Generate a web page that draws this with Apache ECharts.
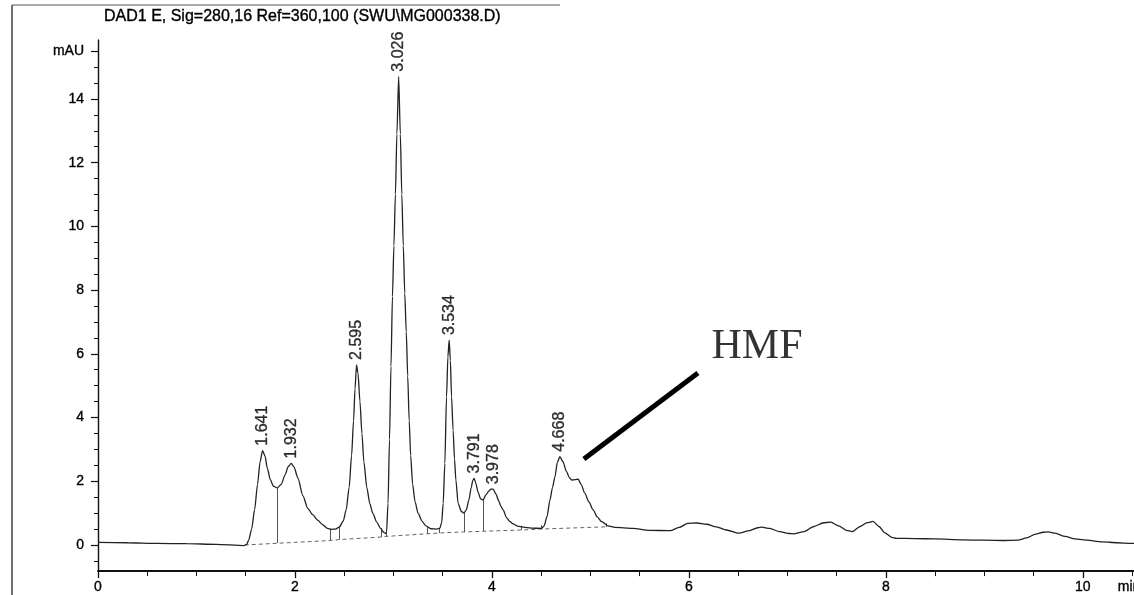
<!DOCTYPE html>
<html><head><meta charset="utf-8">
<script src="https://cdn.jsdelivr.net/npm/echarts@6/dist/echarts.min.js"></script>
<style>html,body{margin:0;padding:0;background:#fff}#c{width:1134px;height:595px}</style>
</head><body><div id="c"></div>
<script>
const chartTitle = 'DAD1 E, Sig=280,16 Ref=360,100 (SWU\\MG000338.D)';
const yUnit = 'mAU';
const xUnit = 'min';
const xUnitAt = [10.47];
const xMajorTicks = [0, 2, 4, 6, 8, 10];
const xMinorTicks = [0.5,1,1.5,2.5,3,3.5,4.5,5,5.5,6.5,7,7.5,8.5,9,9.5,10.5];
const yMajorTicks = [0, 2, 4, 6, 8, 10, 12, 14, 15.5];
const yMinorTicks = [-0.5,0.5,1,1.5,2.5,3,3.5,4.5,5,5.5,6.5,7,7.5,8.5,9,9.5,10.5,11,11.5,12.5,13,13.5,14.5,15];

// chromatogram signal [time (min), absorbance (mAU)]
const signal = [
  [0,0.08],[0.3,0.07],[0.6,0.05],[0.9,0.04],[1.2,0.02],[1.48,-0.02],
  [1.51,0.02],[1.53,0.15],[1.56,0.5],[1.59,1.1],[1.62,1.9],[1.645,2.6],[1.671,2.96],[1.695,2.8],[1.72,2.4],[1.75,2.05],[1.78,1.85],[1.82,1.79],[1.86,1.9],[1.90,2.2],[1.93,2.45],[1.962,2.56],[1.99,2.45],[2.03,2.1],[2.08,1.55],[2.13,1.15],[2.18,0.95],[2.23,0.78],[2.28,0.64],[2.33,0.52],[2.37,0.49],[2.41,0.5],[2.45,0.56],
  [2.49,0.75],[2.52,1.1],[2.55,1.8],[2.575,2.8],[2.595,3.9],[2.61,4.9],[2.625,5.65],[2.64,5.4],[2.66,4.5],[2.68,3.5],[2.70,2.6],[2.73,1.8],[2.76,1.3],[2.79,1.0],[2.83,0.72],[2.87,0.52],[2.90,0.4],[2.92,0.36],
  [2.93,0.4],[2.945,1.3],[2.96,3.3],[2.975,5.6],[2.99,7.8],[3.005,9.4],[3.02,11.0],[3.035,12.9],[3.053,14.7],[3.07,12.9],[3.085,11.0],[3.10,9.4],[3.115,7.9],[3.13,6.7],[3.145,5.3],[3.16,3.9],[3.175,2.8],[3.195,1.9],[3.22,1.35],[3.25,1.0],[3.29,0.75],[3.33,0.6],[3.38,0.51],[3.44,0.5],
  [3.47,0.52],[3.49,0.7],[3.505,1.3],[3.522,2.56],[3.539,4.65],[3.553,5.9],[3.566,6.43],[3.578,5.8],[3.59,4.65],[3.606,3.6],[3.62,2.7],[3.634,2.04],[3.657,1.3],[3.69,1.05],[3.715,1.0],
  [3.74,1.1],[3.765,1.4],[3.79,1.8],[3.805,2.02],[3.82,2.09],[3.835,1.95],[3.86,1.65],[3.885,1.45],[3.911,1.41],[3.94,1.58],[3.97,1.7],[3.99,1.75],[4.013,1.75],[4.04,1.6],[4.07,1.38],[4.09,1.22],[4.114,1.1],[4.15,0.85],[4.18,0.74],[4.216,0.66],[4.26,0.59],[4.317,0.56],[4.40,0.53],[4.504,0.52],
  [4.53,0.6],[4.56,0.9],[4.589,1.41],[4.615,1.8],[4.64,2.14],[4.665,2.6],[4.69,2.77],[4.72,2.62],[4.758,2.3],[4.785,2.12],[4.809,2.04],[4.845,2.05],[4.876,2.07],[4.905,1.9],[4.944,1.62],[4.985,1.35],[5.028,1.1],[5.07,0.88],[5.114,0.73],[5.18,0.6],[5.25,0.55],
  [5.43,0.52],[5.6,0.46],[5.81,0.45],[5.9,0.55],[5.99,0.68],[6.08,0.69],[6.18,0.65],[6.28,0.57],[6.38,0.47],[6.51,0.37],[6.6,0.44],[6.7,0.54],[6.74,0.56],[6.82,0.52],[6.92,0.42],[7.02,0.36],[7.07,0.35],[7.17,0.42],[7.27,0.58],[7.36,0.69],[7.44,0.72],[7.52,0.6],[7.6,0.46],[7.66,0.42],[7.74,0.58],[7.81,0.7],[7.87,0.74],[7.93,0.58],[7.99,0.38],[8.06,0.24],[8.11,0.21],
  [8.3,0.2],[8.5,0.19],[8.78,0.16],[9.0,0.15],[9.2,0.14],[9.34,0.15],[9.43,0.22],[9.52,0.34],[9.6,0.4],[9.65,0.41],[9.72,0.37],[9.82,0.27],[9.92,0.19],[10.01,0.16],[10.2,0.1],[10.35,0.07],[10.49,0.05],[10.52,0.05]
];

// integration baseline
const baseline = [[1.49,0.0],[2.36,0.14],[2.45,0.17],[2.88,0.25],[2.93,0.27],[3.34,0.35],[3.49,0.38],[3.71,0.41],[3.911,0.43],[4.30,0.47],[4.50,0.5],[5.16,0.57]];

// drop lines: time, low, high
const dropTimes = [1.82, 2.36, 2.45, 2.88, 2.93, 3.34, 3.47, 3.715, 3.911, 4.30, 4.504, 5.16];
const dropLow   = [0.06, 0.14, 0.17, 0.25, 0.27, 0.35, 0.37, 0.41, 0.43, 0.47, 0.50, 0.57];
const dropHigh  = [1.79, 0.49, 0.60, 0.52, 0.40, 0.56, 0.54, 1.00, 1.41, 0.60, 0.62, 0.68];

// peak apex positions and retention-time labels
const peakTimes   = [1.671, 1.962, 2.625, 3.053, 3.566, 3.82, 4.013, 4.69];
const peakHeights = [2.96, 2.56, 5.65, 14.7, 6.43, 2.09, 1.75, 2.77];
const peakLabels  = ['1.641','1.932','2.595','3.026','3.534','3.791','3.978','4.668'];

// HMF annotation
const hmfPointer = [[4.934, 2.70], [6.092, 5.40]];
const hmfText = 'HMF';
const hmfTextAt = [6.23, 6.2];

const FONT = "'Liberation Sans', Arial, sans-serif";
const INK = '#000';
const heavy = {textBorderColor: '#000', textBorderWidth: 0.35};

const chart = echarts.init(document.getElementById('c'), null, {renderer: 'canvas'});
const axisCommonX = {type: 'value', min: 0, max: 10.52, position: 'bottom', splitLine: {show: false}};
const axisCommonY = {type: 'value', min: -0.82, max: 15.85, position: 'left', splitLine: {show: false}};

chart.setOption({
  backgroundColor: '#fff',
  animation: false,
  title: {
    text: chartTitle, left: 99, top: 4,
    textStyle: Object.assign({fontFamily: FONT, fontSize: 16, fontWeight: 'normal', color: INK}, heavy)
  },
  grid: {left: 98, right: 0, top: 40, bottom: 23.9, containLabel: false, outerBoundsMode: 'none'},
  xAxis: [
    Object.assign({}, axisCommonX, {
      axisLine: {show: true, onZero: false, lineStyle: {color: '#111', width: 1.8}},
      axisTick: {show: true, customValues: xMajorTicks, length: 7, lineStyle: {color: '#111', width: 1.3}},
      axisLabel: Object.assign({show: true, customValues: xMajorTicks, margin: 9, fontFamily: FONT, fontSize: 14, color: INK}, heavy)
    }),
    Object.assign({}, axisCommonX, {
      axisLine: {show: false, onZero: false},
      axisTick: {show: true, customValues: xMinorTicks, length: 5, lineStyle: {color: '#111', width: 1}},
      axisLabel: {show: false}
    }),
    Object.assign({}, axisCommonX, {
      axisLine: {show: false, onZero: false},
      axisTick: {show: false},
      axisLabel: Object.assign({show: true, customValues: xUnitAt, margin: 9, fontFamily: FONT, fontSize: 14, color: INK,
        formatter: () => xUnit}, heavy)
    })
  ],
  yAxis: [
    Object.assign({}, axisCommonY, {
      axisLine: {show: true, onZero: false, lineStyle: {color: '#111', width: 1.4}},
      axisTick: {show: true, customValues: yMajorTicks, length: 7, lineStyle: {color: '#111', width: 1.2}},
      axisLabel: Object.assign({show: true, customValues: yMajorTicks, margin: 14, fontFamily: FONT, fontSize: 14, color: INK,
        formatter: v => (v === 15.5 ? yUnit : String(v))}, heavy)
    }),
    Object.assign({}, axisCommonY, {
      axisLine: {show: false, onZero: false},
      axisTick: {show: true, customValues: yMinorTicks, length: 4, lineStyle: {color: '#111', width: 1}},
      axisLabel: {show: false}
    })
  ],
  graphic: [
    {type: 'line', shape: {x1: 12, y1: 5, x2: 12, y2: 595}, style: {stroke: '#333', lineWidth: 1.4}},
    {type: 'line', shape: {x1: 12, y1: 5, x2: 560, y2: 5}, style: {stroke: '#555', lineWidth: 1.2}}
  ],
  series: [
    {
      type: 'line', data: baseline, xAxisIndex: 0, yAxisIndex: 0,
      showSymbol: false, silent: true,
      lineStyle: {color: '#666', width: 1, type: [4, 3]}, z: 2
    },
    {
      type: 'lines', coordinateSystem: 'cartesian2d', xAxisIndex: 0, yAxisIndex: 0, silent: true,
      data: dropTimes.map((t, i) => ({coords: [[t, dropLow[i]], [t, dropHigh[i]]]})),
      lineStyle: {color: '#555', width: 1, opacity: 1}, z: 2
    },
    {
      type: 'line', data: signal, xAxisIndex: 0, yAxisIndex: 0,
      showSymbol: false, silent: true, smooth: 0.25, smoothMonotone: 'x',
      lineStyle: {color: '#222', width: 1.3}, z: 3
    },
    {
      type: 'scatter', xAxisIndex: 0, yAxisIndex: 0, symbolSize: 0, silent: true,
      data: peakTimes.map((t, i) => ({value: [t, peakHeights[i]], name: peakLabels[i]})),
      label: Object.assign({show: true, position: 'top', distance: 5, rotate: 90, align: 'left', verticalAlign: 'middle',
        formatter: p => p.name, fontFamily: FONT, fontSize: 16, color: INK}, heavy),
      z: 4
    },
    {
      type: 'lines', coordinateSystem: 'cartesian2d', xAxisIndex: 0, yAxisIndex: 0, silent: true,
      data: [{coords: hmfPointer}],
      lineStyle: {color: '#000', width: 5, opacity: 1, cap: 'butt'}, z: 5
    },
    {
      type: 'scatter', xAxisIndex: 0, yAxisIndex: 0, symbolSize: 0, silent: true,
      data: [{value: hmfTextAt, name: hmfText}],
      label: {show: true, position: 'inside', align: 'left', verticalAlign: 'middle', formatter: p => p.name,
        fontFamily: "'Liberation Serif', 'Times New Roman', serif", fontSize: 42, color: '#000'},
      z: 5
    }
  ]
});
</script>
</body></html>
